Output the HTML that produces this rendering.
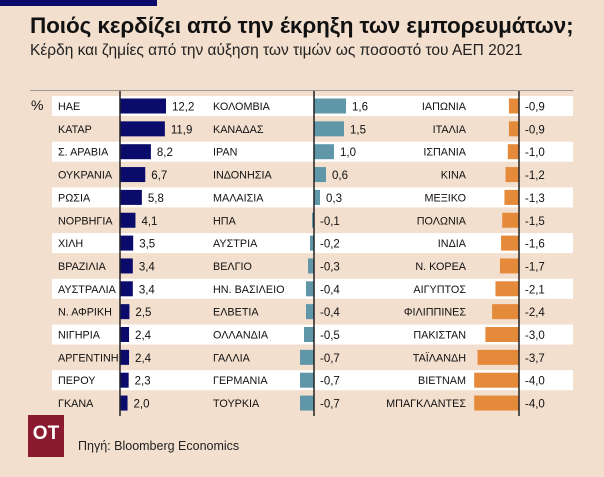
<!DOCTYPE html>
<html><head><meta charset="utf-8">
<style>
body{margin:0;background:#fff;}
#wrap{position:relative;width:604px;height:477px;background:#f3dfce;overflow:hidden;font-family:"Liberation Sans","DejaVu Sans",sans-serif;}
.t{position:absolute;white-space:nowrap;}
</style></head><body>
<div id="wrap">
<div class="t" style="left:0;top:0;width:157px;height:6px;background:#0b0b6b"></div>
<div class="t" style="left:30px;top:13px;font-size:22.5px;font-weight:bold;color:#111;letter-spacing:-0.1px">Ποιός κερδίζει από την έκρηξη των εμπορευμάτων;</div>
<div class="t" style="left:30px;top:42px;font-size:15.5px;color:#222">Κέρδη και ζημίες από την αύξηση των τιμών ως ποσοστό του ΑΕΠ 2021</div>
<div class="t" style="left:30px;top:90px;width:543px;height:1px;background:#999"></div>
<div class="t" style="left:31px;top:97px;font-size:14px;color:#111">%</div>
<svg id="svg" width="604" height="477" style="position:absolute;left:0;top:0"></svg>
<div class="t" style="left:28px;top:415px;width:36px;height:42px;background:#8b1a30;color:#fff;font-weight:bold;font-size:19px;line-height:38px;text-align:center">ΟΤ</div>
<div class="t" style="left:78px;top:439px;font-size:12.5px;color:#222">Πηγή: Bloomberg Economics</div>
</div>
<script>
const col1Labels=["ΗΑΕ","ΚΑΤΑΡ","Σ. ΑΡΑΒΙΑ","ΟΥΚΡΑΝΙΑ","ΡΩΣΙΑ","ΝΟΡΒΗΓΙΑ","ΧΙΛΗ","ΒΡΑΖΙΛΙΑ","ΑΥΣΤΡΑΛΙΑ","Ν. ΑΦΡΙΚΗ","ΝΙΓΗΡΙΑ","ΑΡΓΕΝΤΙΝΗ","ΠΕΡΟΥ","ΓΚΑΝΑ"];
const col1Values=[12.2,11.9,8.2,6.7,5.8,4.1,3.5,3.4,3.4,2.5,2.4,2.4,2.3,2.0];
const col2Labels=["ΚΟΛΟΜΒΙΑ","ΚΑΝΑΔΑΣ","ΙΡΑΝ","ΙΝΔΟΝΗΣΙΑ","ΜΑΛΑΙΣΙΑ","ΗΠΑ","ΑΥΣΤΡΙΑ","ΒΕΛΓΙΟ","ΗΝ. ΒΑΣΙΛΕΙΟ","ΕΛΒΕΤΙΑ","ΟΛΛΑΝΔΙΑ","ΓΑΛΛΙΑ","ΓΕΡΜΑΝΙΑ","ΤΟΥΡΚΙΑ"];
const col2Values=[1.6,1.5,1.0,0.6,0.3,-0.1,-0.2,-0.3,-0.4,-0.4,-0.5,-0.7,-0.7,-0.7];
const col3Labels=["ΙΑΠΩΝΙΑ","ΙΤΑΛΙΑ","ΙΣΠΑΝΙΑ","ΚΙΝΑ","ΜΕΞΙΚΟ","ΠΟΛΩΝΙΑ","ΙΝΔΙΑ","Ν. ΚΟΡΕΑ","ΑΙΓΥΠΤΟΣ","ΦΙΛΙΠΠΙΝΕΣ","ΠΑΚΙΣΤΑΝ","ΤΑΪΛΑΝΔΗ","ΒΙΕΤΝΑΜ","ΜΠΑΓΚΛΑΝΤΕΣ"];
const col3Values=[-0.9,-0.9,-1.0,-1.2,-1.3,-1.5,-1.6,-1.7,-2.1,-2.4,-3.0,-3.7,-4.0,-4.0];

const svg=document.getElementById('svg');
const NS='http://www.w3.org/2000/svg';
function mk(tag,attrs){const e=document.createElementNS(NS,tag);for(const k in attrs)e.setAttribute(k,attrs[k]);svg.appendChild(e);return e;}
const rowY=i=>106+i*22.85;
for(let i=0;i<14;i+=2){
  const r=mk('rect',{x:52,y:rowY(i)-10,width:521,height:20,fill:'#fff'});
  
  
}
const cols=[
 {labels:col1Labels,values:col1Values,axis:120,scale:3.77,color:'#0b0b6b',lx:58,anchor:'start',name:'gainers-bar'},
 {labels:col2Labels,values:col2Values,axis:314,scale:20,color:'#5f97a8',lx:213,anchor:'start',name:'mid-bar'},
 {labels:col3Labels,values:col3Values,axis:519,scale:11.2,color:'#e5893a',lx:466,anchor:'end',name:'losers-bar'}
];
const fmt=v=>v.toFixed(1).replace('.',',');
cols.forEach(c=>{
  c.values.forEach((v,i)=>{
    const y=rowY(i);
    const w=Math.abs(v)*c.scale;
    const b=mk('rect',{x:v>=0?c.axis:c.axis-w,y:y-7.5,width:w,height:15,fill:c.color});
    
    
    const l=mk('text',{x:c.lx,y:y+4,'font-size':10.8,fill:'#111','text-anchor':c.anchor,'font-family':'Liberation Sans, sans-serif'});
    l.textContent=c.labels[i];
    
    
    const tx=(v>=0?c.axis+w:c.axis)+6;
    const t=mk('text',{x:tx,y:y+4.5,'font-size':11.5,fill:'#111','font-family':'Liberation Sans, sans-serif'});
    t.textContent=fmt(v);
    
    
  });
  const a=mk('line',{x1:c.axis,x2:c.axis,y1:91,y2:416,stroke:'#222','stroke-width':1.5});
  
  
});
</script>
</body></html>
